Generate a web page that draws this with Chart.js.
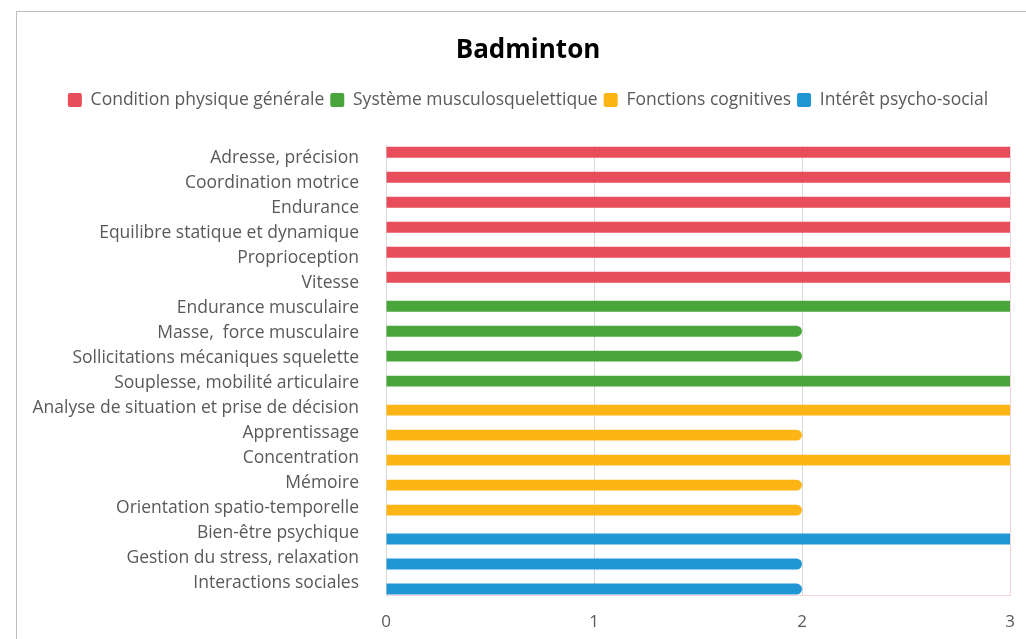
<!DOCTYPE html>
<html lang="fr">
<head>
<meta charset="utf-8">
<title>Badminton</title>
<script src="https://cdn.jsdelivr.net/npm/chart.js@4"></script>
<style>
    html, body { margin: 0; padding: 0; background: #fff; overflow: hidden; width: 1026px; height: 639px; position: relative; }
    #frame {
        position: absolute; left: 16px; top: 11px;
        width: 1040px; height: 660px;
        border-left: 1px solid #bdbdbd; border-top: 1px solid #bdbdbd;
    }
    #chart-wrap { position: absolute; left: 0; top: 12px; width: 1060px; height: 644px; }
</style>
</head>
<body>
<div id="frame"></div>
<div id="chart-wrap"><canvas id="grafico-badminton"></canvas></div>
<script>
// ---- données ----
const categories = [
    'Adresse, précision',
    'Coordination motrice',
    'Endurance',
    'Equilibre statique et dynamique',
    'Proprioception',
    'Vitesse',
    'Endurance musculaire',
    'Masse,  force musculaire',
    'Sollicitations mécaniques squelette',
    'Souplesse, mobilité articulaire',
    'Analyse de situation et prise de décision',
    'Apprentissage',
    'Concentration',
    'Mémoire',
    'Orientation spatio-temporelle',
    'Bien-être psychique',
    'Gestion du stress, relaxation',
    'Interactions sociales'
];

const conditionPhysique = [3, 3, 3, 3, 3, 3, null, null, null, null, null, null, null, null, null, null, null, null];
const systemeMusculo    = [null, null, null, null, null, null, 3, 2, 2, 3, null, null, null, null, null, null, null, null];
const fonctionsCogn     = [null, null, null, null, null, null, null, null, null, null, 3, 2, 3, 2, 2, null, null, null];
const interetPsycho     = [null, null, null, null, null, null, null, null, null, null, null, null, null, null, null, 3, 2, 2];

const seriesLabels = ['Condition physique générale', 'Système musculosquelettique', 'Fonctions cognitives', 'Intérêt psycho-social'];
const seriesColors = ['#e84d5b', '#4aa63c', '#fdb515', '#2196d5'];
const xTicks = [0, 1, 2, 3];

const TEXT_GREY = '#595959';
const GRID_GREY = '#d9d9d9';
const PINK = '#f6d3d9';

function makeDataset(i, values) {
    return {
        label: seriesLabels[i],
        data: values,
        backgroundColor: seriesColors[i],
        borderSkipped: 'start',
        borderRadius: (ctx) => (ctx.raw !== null && ctx.raw < xTicks[xTicks.length - 1]) ? 6 : 0,
        categoryPercentage: 0.635,
        barPercentage: 2.75
    };
}

// un peu d'espace sous la légende (comme dans Excel)
const legendSpacer = {
    id: 'legendSpacer',
    beforeInit(chart) {
        const origFit = chart.legend.fit;
        chart.legend.fit = function () {
            origFit.bind(chart.legend)();
            this.height += 27;
        };
    }
};

new Chart(document.getElementById('grafico-badminton'), {
    type: 'bar',
    data: {
        labels: categories,
        datasets: [
            makeDataset(0, conditionPhysique),
            makeDataset(1, systemeMusculo),
            makeDataset(2, fonctionsCogn),
            makeDataset(3, interetPsycho)
        ]
    },
    plugins: [legendSpacer],
    options: {
        indexAxis: 'y',
        responsive: true,
        maintainAspectRatio: false,
        animation: false,
        layout: { padding: { left: 7, right: 11, top: 0, bottom: 8 } },
        plugins: {
            title: {
                display: true,
                text: 'Badminton',
                color: '#000',
                font: { family: 'Open Sans', size: 26, weight: 'bold' },
                padding: { top: 23, bottom: 19 }
            },
            legend: {
                position: 'top',
                labels: {
                    color: TEXT_GREY,
                    font: { family: 'Open Sans', size: 17.5 },
                    boxWidth: 14,
                    boxHeight: 14,
                    padding: 6,
                    useBorderRadius: true,
                    borderRadius: 2
                }
            },
            tooltip: { enabled: false }
        },
        scales: {
            x: {
                min: 0,
                max: 3,
                afterBuildTicks: (axis) => { axis.ticks = xTicks.map(v => ({ value: v })); },
                ticks: {
                    color: TEXT_GREY,
                    font: { family: 'Open Sans', size: 17 },
                    padding: 16
                },
                grid: {
                    drawTicks: false,
                    color: (ctx) => ctx.tick && ctx.tick.value === 3 ? PINK : (ctx.tick && ctx.tick.value === 0 ? 'rgba(0,0,0,0)' : GRID_GREY)
                },
                border: { color: PINK }
            },
            y: {
                afterFit: (scale) => { scale.width = 379; },
                ticks: {
                    color: TEXT_GREY,
                    font: { family: 'Open Sans', size: 17.5 },
                    padding: 27,
                    autoSkip: false
                },
                grid: { display: false, drawTicks: false },
                border: { display: true, color: GRID_GREY }
            },
            // axe vide à droite : seulement pour réserver la marge droite du cadre
            yMarge: {
                type: 'category',
                position: 'right',
                labels: categories,
                afterFit: (scale) => { scale.width = 39; },
                ticks: { display: false },
                grid: { display: false, drawTicks: false },
                border: { display: false }
            }
        }
    }
});
</script>
</body>
</html>
